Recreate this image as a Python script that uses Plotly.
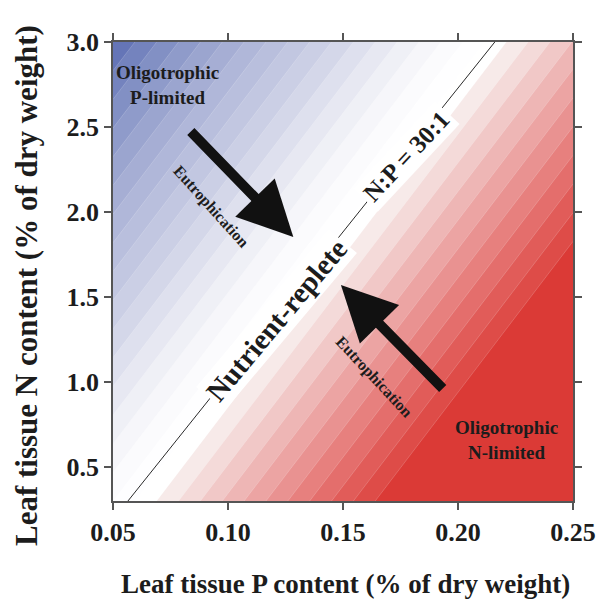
import plotly.graph_objects as go

# Axis extents (leaf P and N content, % of dry weight)
p_edges = [0.05, 0.25]
n_edges = [0.3, 3.0]

# Nutrient-balance index at the four corners of the P–N plane
# (negative = P-limited side, positive = N-limited side)
balance_index = [
    [-2.0, 19.05],   # N = 0.3
    [-18.0, 3.05],   # N = 3.0
]

# N:P = 30:1 reference line end points
ratio_line_p = [0.0565, 0.216]
ratio_line_n = [0.3, 3.0]

x_ticks = [0.05, 0.10, 0.15, 0.20, 0.25]
y_ticks = [0.5, 1.0, 1.5, 2.0, 2.5, 3.0]

# One colour per band: below -17, bands -17..9, above 10
band_colors = [
    (101, 117, 183), (116, 131, 190), (130, 144, 196), (143, 155, 202),
    (155, 165, 207), (166, 174, 212), (176, 183, 217), (185, 191, 221),
    (194, 199, 225), (203, 207, 229), (212, 215, 233), (222, 224, 238),
    (231, 232, 242), (239, 240, 246), (246, 246, 250), (251, 251, 253),
    (254, 254, 255), (255, 255, 255),
    (247, 234, 233), (244, 218, 217), (241, 200, 199), (238, 182, 181),
    (236, 164, 163), (233, 146, 145), (231, 128, 126), (228, 110, 108),
    (225, 92, 89), (222, 76, 72), (219, 58, 54),
]
n_steps = len(band_colors) - 1
colorscale = [[i / n_steps, "rgb(%d,%d,%d)" % c] for i, c in enumerate(band_colors)]

SERIF = "Liberation Serif"
INK = "#1c1c1c"

fig = go.Figure()

fig.add_trace(go.Contour(
    x=p_edges, y=n_edges, z=balance_index,
    autocontour=False,
    contours=dict(start=-17, end=10, size=1, coloring="fill", showlines=True),
    line=dict(color="rgba(255,255,255,0.3)", width=0.6, smoothing=0),
    colorscale=colorscale,
    showscale=False,
    hoverinfo="skip",
))

fig.add_trace(go.Scatter(
    x=ratio_line_p, y=ratio_line_n, mode="lines",
    line=dict(color="#2a2a2a", width=1),
    hoverinfo="skip", showlegend=False,
))

annotations = []

# Region labels
annotations.append(dict(x=0.0737, y=2.747, text="Oligotrophic<br>P-limited", showarrow=False,
                        font=dict(family=SERIF, size=19, color=INK, weight="bold")))
annotations.append(dict(x=0.2211, y=0.659, text="Oligotrophic<br>N-limited", showarrow=False,
                        font=dict(family=SERIF, size=19, color=INK, weight="bold")))

# Eutrophication arrows
annotations.append(dict(x=0.1284, y=1.853, ax=0.0832, ay=2.482, axref="x", ayref="y",
                        text="", showarrow=True, arrowhead=2, arrowsize=1.1,
                        arrowwidth=10, arrowcolor="#111111"))
annotations.append(dict(x=0.1491, y=1.571, ax=0.194, ay=0.953, axref="x", ayref="y",
                        text="", showarrow=True, arrowhead=2, arrowsize=1.1,
                        arrowwidth=10, arrowcolor="#111111"))

annotations.append(dict(x=0.0927, y=2.029, text="Eutrophication", showarrow=False, textangle=48,
                        font=dict(family=SERIF, size=16, color=INK, weight="bold")))
annotations.append(dict(x=0.1634, y=1.029, text="Eutrophication", showarrow=False, textangle=47,
                        font=dict(family=SERIF, size=16, color=INK, weight="bold")))

# Labels sitting on the ratio line
annotations.append(dict(x=0.1211, y=1.365, text="Nutrient-replete", showarrow=False, textangle=-50,
                        bgcolor="white", borderpad=2,
                        font=dict(family=SERIF, size=29, color=INK, weight="bold")))
annotations.append(dict(x=0.1774, y=2.326, text="N:P = 30:1", showarrow=False, textangle=-47,
                        bgcolor="white", borderpad=3,
                        font=dict(family=SERIF, size=25, color=INK, weight="bold")))

# Axis titles
annotations.append(dict(xref="paper", yref="paper", x=0.505, y=-0.181, yanchor="middle",
                        text="Leaf tissue P content (% of dry weight)", showarrow=False,
                        font=dict(family=SERIF, size=27, color=INK, weight="bold")))
annotations.append(dict(xref="paper", yref="paper", x=-0.1875, y=0.47, xanchor="center",
                        text="Leaf tissue N content (% of dry weight)", showarrow=False, textangle=-90,
                        font=dict(family=SERIF, size=31, color=INK, weight="bold")))

axis_common = dict(
    showgrid=False, zeroline=False, showline=True, linecolor="#555555", linewidth=1.5,
    ticks="outside", ticklen=7, tickwidth=1.5, tickcolor="#555555", mirror="ticks",
    tickfont=dict(family=SERIF, size=26, color=INK, weight="bold"),
)

fig.update_layout(
    width=608, height=601,
    margin=dict(l=113, r=31, t=42, b=100),
    paper_bgcolor="white", plot_bgcolor="white",
    showlegend=False,
    annotations=annotations,
    xaxis=dict(range=p_edges, tickvals=x_ticks, tickformat=".2f", **axis_common),
    yaxis=dict(range=n_edges, tickvals=y_ticks, tickformat=".1f", **axis_common),
)

fig.write_html("out.html")
